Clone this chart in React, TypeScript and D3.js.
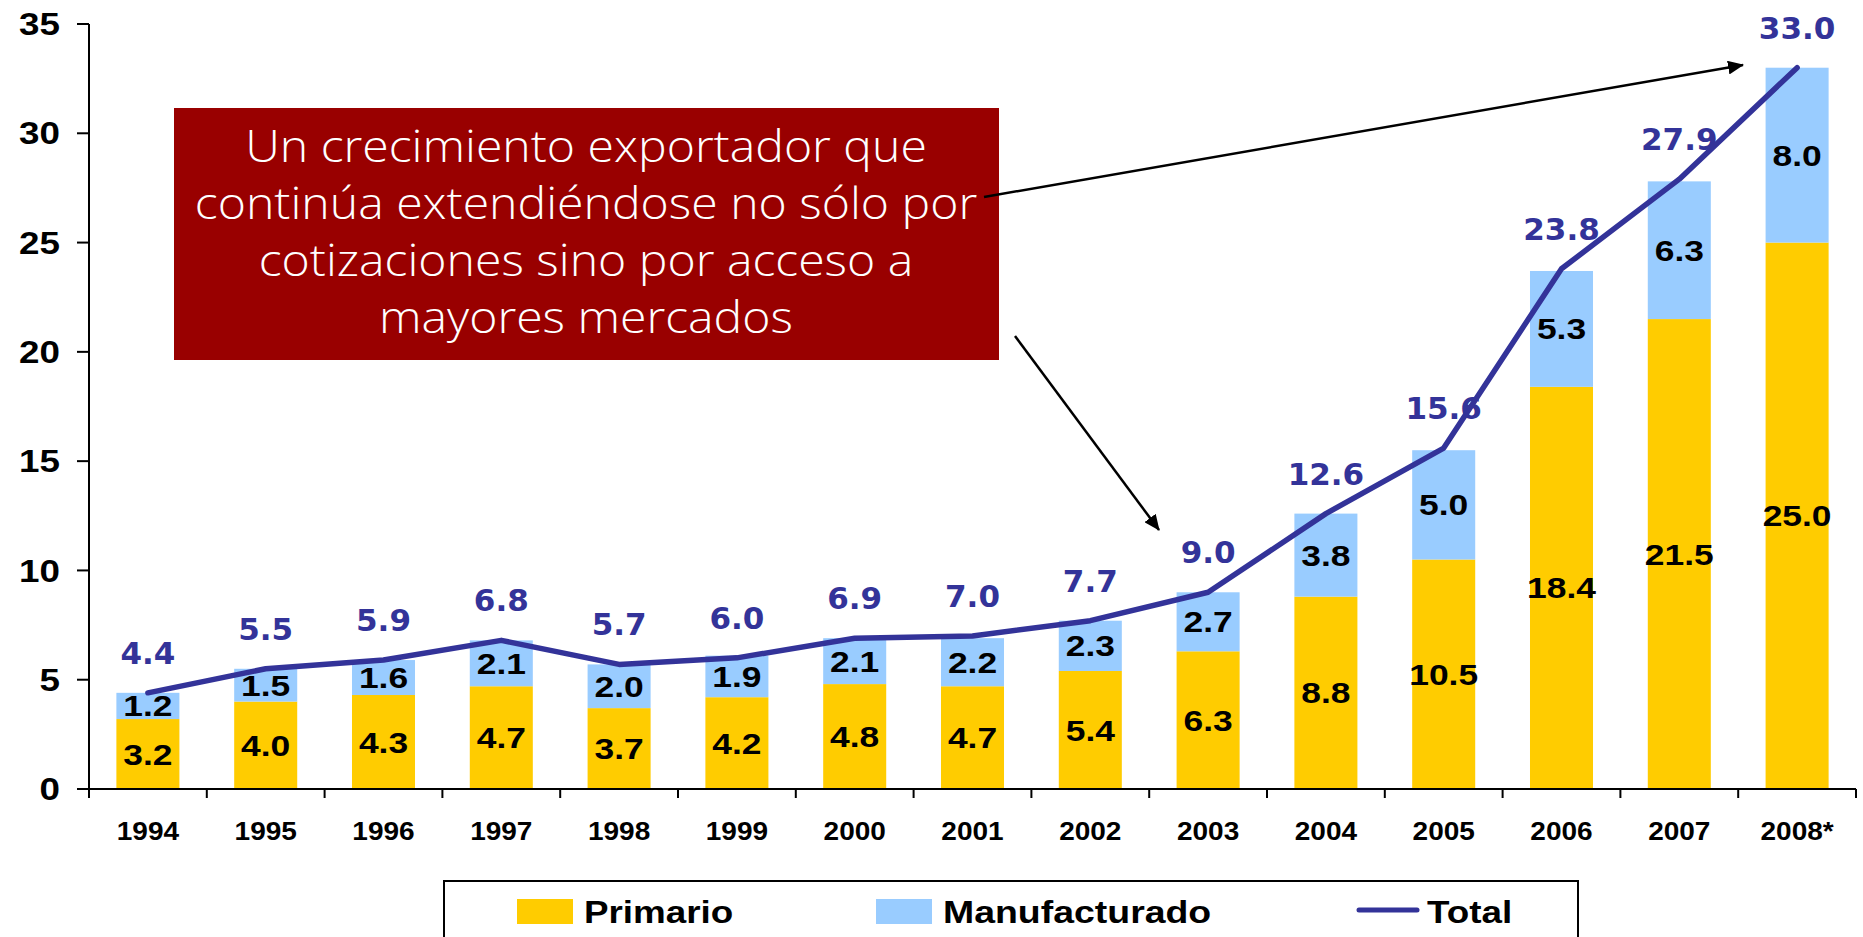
import React from "react";
import * as d3 from "d3";

// export values, billions US$
const years = ["1994", "1995", "1996", "1997", "1998", "1999", "2000", "2001", "2002", "2003", "2004", "2005", "2006", "2007", "2008*"];
const primario = [3.2, 4.0, 4.3, 4.7, 3.7, 4.2, 4.8, 4.7, 5.4, 6.3, 8.8, 10.5, 18.4, 21.5, 25.0];
const manufacturado = [1.2, 1.5, 1.6, 2.1, 2.0, 1.9, 2.1, 2.2, 2.3, 2.7, 3.8, 5.0, 5.3, 6.3, 8.0];
const total = [4.4, 5.5, 5.9, 6.8, 5.7, 6.0, 6.9, 7.0, 7.7, 9.0, 12.6, 15.6, 23.8, 27.9, 33.0];
const yTicks = [0, 5, 10, 15, 20, 25, 30, 35];

const annotationLines = [
  "Un crecimiento exportador que",
  "continúa extendiéndose no sólo por",
  "cotizaciones sino por acceso a",
  "mayores mercados",
];

const W = 1863;
const H = 937;
const YELLOW = "#FFCC00";
const BLUE = "#99CCFF";
const NAVY = "#333399";
const DARKRED = "#990000";
const ARIAL = "'Liberation Sans', Arial, sans-serif";

// text with a horizontal stretch (the source picture is a bit wide)
const SText = ({ x, y, sx = 1, children, ...rest }: any) => (
  <text transform={`translate(${x},${y}) scale(${sx},1)`} {...rest}>
    {children}
  </text>
);

export default function App() {
  const x = d3
    .scaleBand()
    .domain(years)
    .range([89, 1856])
    .paddingInner(0.465)
    .paddingOuter(0.2325);
  const y = d3.scaleLinear().domain([0, 35]).range([789, 24]);
  const cx = (i: number) => (x(years[i]) as number) + x.bandwidth() / 2;

  const line = d3
    .line<number>()
    .x((d, i) => cx(i))
    .y((d) => y(d));

  const boundaries = d3.range(years.length + 1).map((i) => x.range()[0] + i * x.step());

  return (
    <svg
      width={W}
      height={H}
      style={{ position: "absolute", left: 0, top: 0, background: "#fff" }}
    >
      <defs>
        <marker id="arrow" viewBox="0 0 16 14" refX="15" refY="7" markerWidth="16" markerHeight="14" orient="auto" markerUnits="userSpaceOnUse">
          <path d="M0,0 L16,7 L0,14 z" fill="#000" />
        </marker>
      </defs>

      {/* bars */}
      {years.map((yr, i) => (
        <g key={yr}>
          <rect x={x(yr)} width={x.bandwidth()} y={y(primario[i])} height={y(0) - y(primario[i])} fill={YELLOW} />
          <rect
            x={x(yr)}
            width={x.bandwidth()}
            y={y(primario[i] + manufacturado[i])}
            height={y(primario[i]) - y(primario[i] + manufacturado[i])}
            fill={BLUE}
          />
        </g>
      ))}

      {/* segment labels */}
      {years.map((yr, i) => (
        <g key={"l" + yr} fontFamily={ARIAL} fontWeight="bold" fontSize={30} textAnchor="middle" dominantBaseline="central">
          <SText x={cx(i)} y={y(primario[i] / 2)} sx={1.18}>
            {primario[i].toFixed(1)}
          </SText>
          <SText x={cx(i)} y={y(primario[i] + manufacturado[i] / 2)} sx={1.18}>
            {manufacturado[i].toFixed(1)}
          </SText>
        </g>
      ))}

      {/* axes */}
      <g stroke="#000" strokeWidth={2}>
        <line x1={89} x2={89} y1={24} y2={789} />
        {yTicks.map((t) => (
          <line key={t} x1={77} x2={89} y1={y(t)} y2={y(t)} />
        ))}
        <line x1={77} x2={1856} y1={789} y2={789} />
        {boundaries.map((b) => (
          <line key={b} x1={b} x2={b} y1={789} y2={798} />
        ))}
      </g>
      {yTicks.map((t) => (
        <SText key={t} x={60} y={y(t)} sx={1.15} fontFamily={ARIAL} fontWeight="bold" fontSize={32} textAnchor="end" dominantBaseline="central">
          {t}
        </SText>
      ))}
      {years.map((yr, i) => (
        <SText key={yr} x={cx(i)} y={840} sx={1.12} fontFamily={ARIAL} fontWeight="bold" fontSize={25} textAnchor="middle">
          {yr}
        </SText>
      ))}

      {/* total line */}
      <path d={line(total) as string} fill="none" stroke={NAVY} strokeWidth={5.5} strokeLinejoin="round" strokeLinecap="round" />
      {total.map((v, i) => (
        <text
          key={i}
          x={cx(i)}
          y={y(v) - 40}
          fontFamily="'DejaVu Sans', Verdana, sans-serif"
          fontWeight="bold"
          fontSize={31}
          fill={NAVY}
          textAnchor="middle"
          dominantBaseline="central"
        >
          {v.toFixed(1)}
        </text>
      ))}

      {/* annotation */}
      <rect x={174} y={108} width={825} height={252} fill={DARKRED} />
      {annotationLines.map((t, i) => (
        <SText
          key={i}
          x={586}
          y={162 + i * 57}
          sx={1.07}
          fill="#fff"
          fontFamily="'Open Sans', sans-serif"
          fontWeight={300}
          fontSize={45}
          textAnchor="middle"
        >
          {t}
        </SText>
      ))}
      <g stroke="#000" strokeWidth={2.5} markerEnd="url(#arrow)">
        <line x1={984} y1={197} x2={1743} y2={65} />
        <line x1={1015} y1={336} x2={1159} y2={530} />
      </g>

      {/* legend */}
      <rect x={444} y={881} width={1134} height={70} fill="#fff" stroke="#000" strokeWidth={2} />
      <rect x={517} y={899} width={56} height={25} fill={YELLOW} />
      <SText x={584} y={923} sx={1.15} fontFamily={ARIAL} fontWeight="bold" fontSize={32}>Primario</SText>
      <rect x={876} y={899} width={56} height={25} fill={BLUE} />
      <SText x={943} y={923} sx={1.17} fontFamily={ARIAL} fontWeight="bold" fontSize={32}>Manufacturado</SText>
      <line x1={1359} x2={1417} y1={910} y2={910} stroke={NAVY} strokeWidth={5} strokeLinecap="round" />
      <SText x={1427} y={923} sx={1.15} fontFamily={ARIAL} fontWeight="bold" fontSize={32}>Total</SText>
    </svg>
  );
}
